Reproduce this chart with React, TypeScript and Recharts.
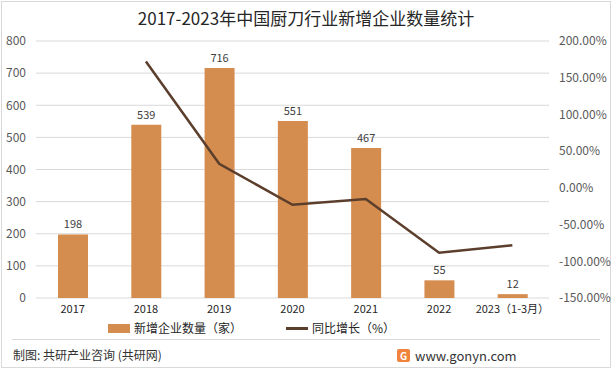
import React from "react";
import {
  ComposedChart,
  Bar,
  Line,
  XAxis,
  YAxis,
  CartesianGrid,
  LabelList,
} from "recharts";

const years = ["2017", "2018", "2019", "2020", "2021", "2022", "2023（1-3月）"];
const newCompanies = [198, 539, 716, 551, 467, 55, 12];
const growth = [null, 172.22, 32.84, -23.04, -15.25, -88.22, -78.18];
const leftTicks = [0, 100, 200, 300, 400, 500, 600, 700, 800];
const rightTicks = [-150, -100, -50, 0, 50, 100, 150, 200];

const data = years.map((year, i) => ({
  year,
  count: newCompanies[i],
  growth: growth[i],
}));

const BAR_COLOR = "#D58C4F";
const LINE_COLOR = "#5B3E2B";
const FONT = "'Noto Sans CJK SC', 'Noto Sans', sans-serif";

export default function App() {
  return (
    <div
      style={{
        position: "absolute",
        left: 0,
        top: 0,
        width: 612,
        height: 369,
        background: "#fff",
        fontFamily: FONT,
        overflow: "hidden",
      }}
    >
      <div
        style={{
          position: "absolute",
          left: 1,
          top: 1,
          width: 608,
          height: 365,
          border: "1px solid #d9d9d9",
        }}
      />
      <div
        style={{
          position: "absolute",
          top: 5,
          width: 612,
          textAlign: "center",
          fontSize: 17,
          color: "#262626",
        }}
      >
        2017-2023年中国厨刀行业新增企业数量统计
      </div>
      <div style={{ position: "absolute", left: 0, top: 0 }}>
        <ComposedChart
          width={612}
          height={369}
          data={data}
          margin={{ top: 41, right: 0, bottom: 53, left: 0 }}
          style={{ fontFamily: FONT }}
        >
          <CartesianGrid yAxisId="left" vertical={false} stroke="#d9d9d9" />
          <XAxis
            dataKey="year"
            axisLine={false}
            tickLine={false}
            height={18}
            tick={{ fontSize: 11, fill: "#262626" }}
            tickMargin={1}
            interval={0}
          />
          <YAxis
            yAxisId="left"
            width={36}
            domain={[0, 800]}
            ticks={leftTicks}
            axisLine={false}
            tickLine={false}
            tick={{ fontSize: 12, fill: "#595959" }}
            tickMargin={4}
          />
          <YAxis
            yAxisId="right"
            orientation="right"
            width={63}
            domain={[-150, 200]}
            ticks={rightTicks}
            axisLine={false}
            tickLine={false}
            tick={{ fontSize: 12, fill: "#595959" }}
            tickMargin={4}
            tickFormatter={(v: number) => `${v.toFixed(2)}%`}
          />
          <Bar
            yAxisId="left"
            dataKey="count"
            fill={BAR_COLOR}
            barSize={30}
            isAnimationActive={false}
          >
            <LabelList
              dataKey="count"
              position="top"
              offset={6}
              style={{ fontSize: 11, fill: "#404040" }}
            />
          </Bar>
          <Line
            yAxisId="right"
            dataKey="growth"
            stroke={LINE_COLOR}
            strokeWidth={2.5}
            dot={false}
            isAnimationActive={false}
          />
        </ComposedChart>
      </div>
      <div
        style={{
          position: "absolute",
          top: 321,
          left: 108,
          display: "flex",
          alignItems: "center",
          fontSize: 12,
          lineHeight: "14px",
          color: "#262626",
        }}
      >
        <span style={{ width: 22, height: 9, background: BAR_COLOR, marginRight: 4 }} />
        <span>新增企业数量（家）</span>
        <span
          style={{
            width: 22,
            height: 3,
            background: LINE_COLOR,
            marginLeft: 44,
            marginRight: 4,
          }}
        />
        <span>同比增长（%）</span>
      </div>
      <div
        style={{
          position: "absolute",
          left: 12,
          top: 339,
          width: 588,
          borderTop: "1px solid #d9d9d9",
        }}
      />
      <div
        style={{
          position: "absolute",
          left: 13,
          top: 346,
          fontSize: 12,
          color: "#333",
        }}
      >
        制图: 共研产业咨询 (共研网)
      </div>
      <div
        style={{
          position: "absolute",
          left: 397,
          top: 346,
          display: "flex",
          alignItems: "center",
          fontSize: 13,
          color: "#333",
        }}
      >
        <span
          style={{
            width: 13,
            height: 13,
            background: "#F0843C",
            borderRadius: 2,
            color: "#fff",
            fontSize: 10,
            fontWeight: 700,
            lineHeight: "13px",
            textAlign: "center",
            marginRight: 5,
          }}
        >
          G
        </span>
        <span>www.gonyn.com</span>
      </div>
    </div>
  );
}
